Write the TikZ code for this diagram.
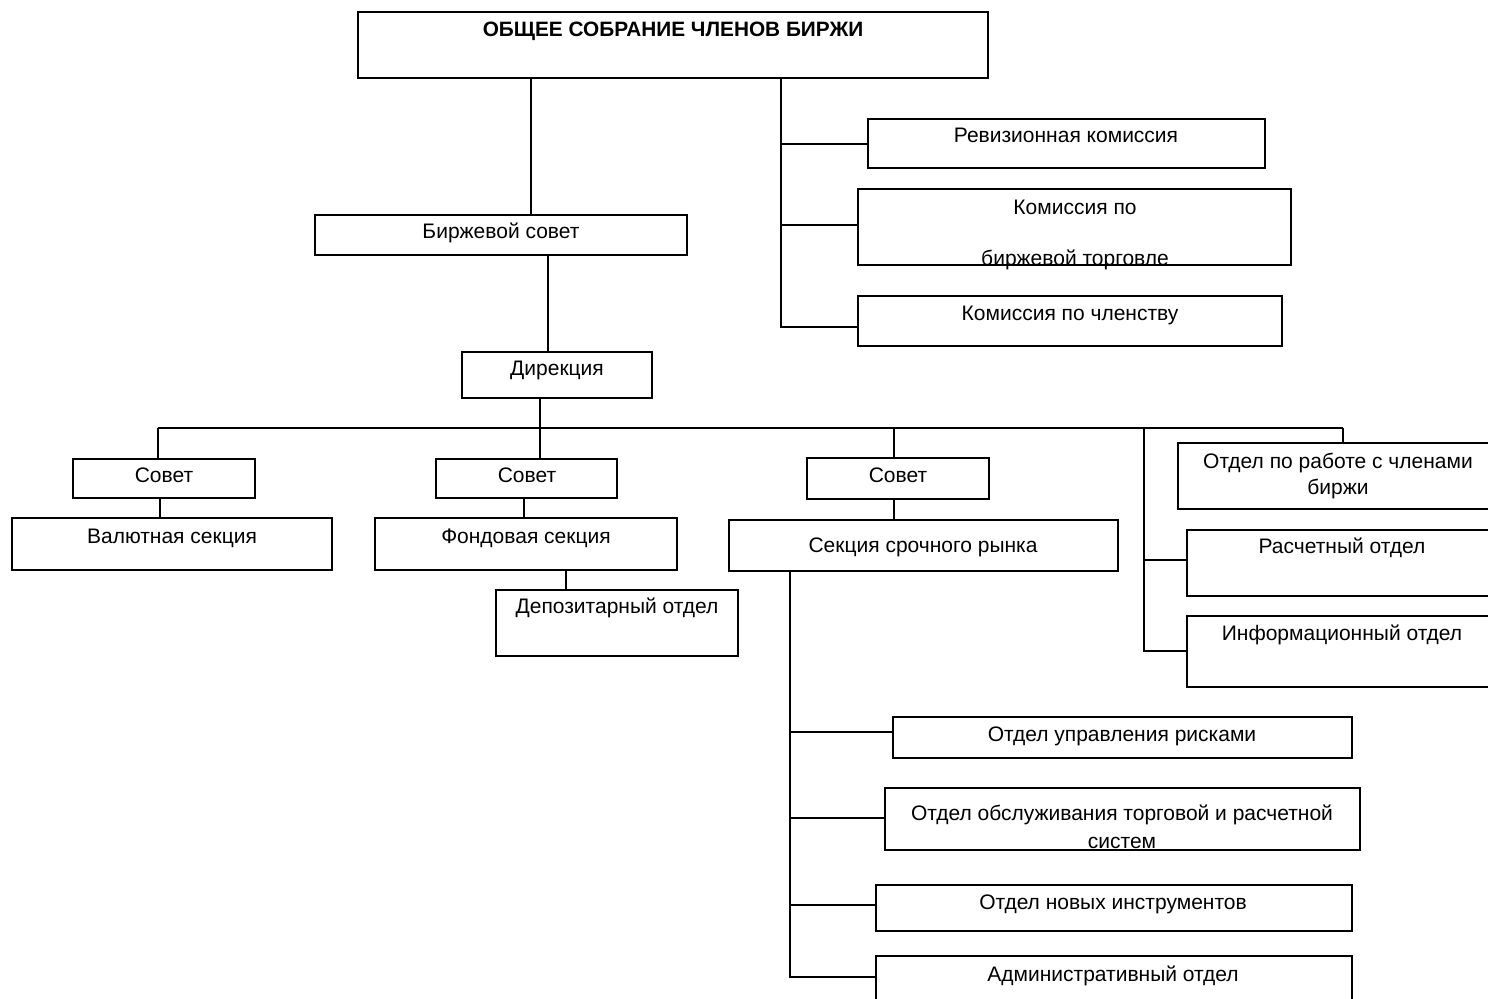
\documentclass[tikz,border=0pt]{standalone}
\usepackage{fontspec}
\setmainfont{Liberation Sans}
\tikzset{
  box/.style={draw, line width=1pt, inner sep=0pt, outer sep=0pt, rectangle},
  txt/.style={inner sep=0pt, anchor=mid, yshift=-0.8pt, font=\fontsize{10.5pt}{12.5pt}\selectfont},
  btxt/.style={txt, font=\fontsize{10.4pt}{12.5pt}\selectfont\bfseries},
  conn/.style={line width=1pt},
}
\newcommand\bx[5]{\node[box,minimum width={(#4-#2)*0.5pt},minimum height={(#5-#3)*0.5pt}] (#1) at ({(#2+#4)/2},{(#3+#5)/2}) {};}
\begin{document}
\begin{tikzpicture}[x=0.5pt,y=-0.5pt]
\useasboundingbox (0,0) rectangle (1488,998);
\clip (0,0) rectangle (1488,998);
\bx{top}{358}{12}{988}{78}
\bx{bs}{315}{215}{687}{255}
\bx{rev}{868}{119}{1265}{168}
\bx{kbt}{858}{189}{1291}{265}
\bx{kch}{858}{296}{1282}{346}
\bx{dir}{462}{352}{652}{398}
\bx{sa}{73}{459}{255}{498}
\bx{val}{12}{518}{332}{570}
\bx{sb}{436}{459}{617}{498}
\bx{fond}{375}{518}{677}{570}
\bx{dep}{496}{590}{738}{656}
\bx{sc}{807}{458}{989}{499}
\bx{ssr}{729}{520}{1118}{571}
\bx{otr}{1178}{443}{1510}{509}
\bx{ras}{1187}{530}{1510}{596}
\bx{inf}{1187}{616}{1510}{687}
\bx{our}{893}{717}{1352}{758}
\bx{obs}{885}{788}{1360}{850}
\bx{niv}{876}{885}{1352}{931}
\bx{adm}{876}{956}{1352}{1012}

\node[btxt] (ttop) at (673,30) {ОБЩЕЕ СОБРАНИЕ ЧЛЕНОВ БИРЖИ};
\node[txt] (tbs) at (501,232) {Биржевой совет};
\node[txt] (trev) at (1066,136) {Ревизионная комиссия};
\node[txt] (tkbt1) at (1075,208) {Комиссия по};
\node[txt] (tkbt2) at (1075,259) {биржевой торговле};
\node[txt] (tkch) at (1070,314) {Комиссия по членству};
\node[txt] (tdir) at (557,369) {Дирекция};
\node[txt] (tsa) at (164,476) {Совет};
\node[txt] (tval) at (172,537) {Валютная секция};
\node[txt] (tsb) at (527,476) {Совет};
\node[txt] (tfond) at (526,537) {Фондовая секция};
\node[txt] (tdep) at (617,607) {Депозитарный отдел};
\node[txt] (tsc) at (898,476) {Совет};
\node[txt] (tssr) at (923,546) {Секция срочного рынка};
\node[txt] (totr1) at (1338,462) {Отдел по работе с членами};
\node[txt] (totr2) at (1338,488) {биржи};
\node[txt] (tras) at (1342,547) {Расчетный отдел};
\node[txt] (tinf) at (1342,634) {Информационный отдел};
\node[txt] (tour) at (1122,735) {Отдел управления рисками};
\node[txt] (tobs1) at (1122,814) {Отдел обслуживания торговой и расчетной};
\node[txt] (tobs2) at (1122,842) {систем};
\node[txt] (tniv) at (1113,903) {Отдел новых инструментов};
\node[txt] (tadm) at (1113,975) {Административный отдел};

\coordinate (ra) at (781,144);
\coordinate (rk) at (781,225);
\coordinate (rb) at (781,327);
\coordinate (busL) at (158,428);
\coordinate (busM) at (540,428);
\coordinate (busS) at (894,428);
\coordinate (busV) at (1144,428);
\coordinate (busR) at (1343,428);
\coordinate (vRa) at (1144,560);
\coordinate (vR) at (1144,651);
\coordinate (sa1) at (790,732);
\coordinate (sa2) at (790,818);
\coordinate (sa3) at (790,905);
\coordinate (vS) at (790,977);

\draw[conn] (top.south -| 531,0) -- (bs.north -| 531,0);
\draw[conn] (top.south -| rb) -- (rb) -- (rb -| kch.west);
\draw[conn] (ra) -- (ra -| rev.west);
\draw[conn] (rk) -- (rk -| kbt.west);
\draw[conn] (bs.south -| 548,0) -- (dir.north -| 548,0);
\draw[conn] (dir.south -| busM) -- (busM);
\draw[conn] (busL) -- (busR);
\draw[conn] (busL) -- (busL |- sa.north);
\draw[conn] (busM) -- (busM |- sb.north);
\draw[conn] (busS) -- (busS |- sc.north);
\draw[conn] (busR) -- (busR |- otr.north);
\draw[conn] (busV) -- (vR) -- (vR -| inf.west);
\draw[conn] (vRa) -- (vRa -| ras.west);
\draw[conn] (sa.south -| 160,0) -- (val.north -| 160,0);
\draw[conn] (sb.south -| 524,0) -- (fond.north -| 524,0);
\draw[conn] (fond.south -| 566,0) -- (dep.north -| 566,0);
\draw[conn] (sc.south -| busS) -- (ssr.north -| busS);
\draw[conn] (ssr.south -| vS) -- (vS) -- (vS -| adm.west);
\draw[conn] (sa1) -- (sa1 -| our.west);
\draw[conn] (sa2) -- (sa2 -| obs.west);
\draw[conn] (sa3) -- (sa3 -| niv.west);
\end{tikzpicture}
\end{document}
